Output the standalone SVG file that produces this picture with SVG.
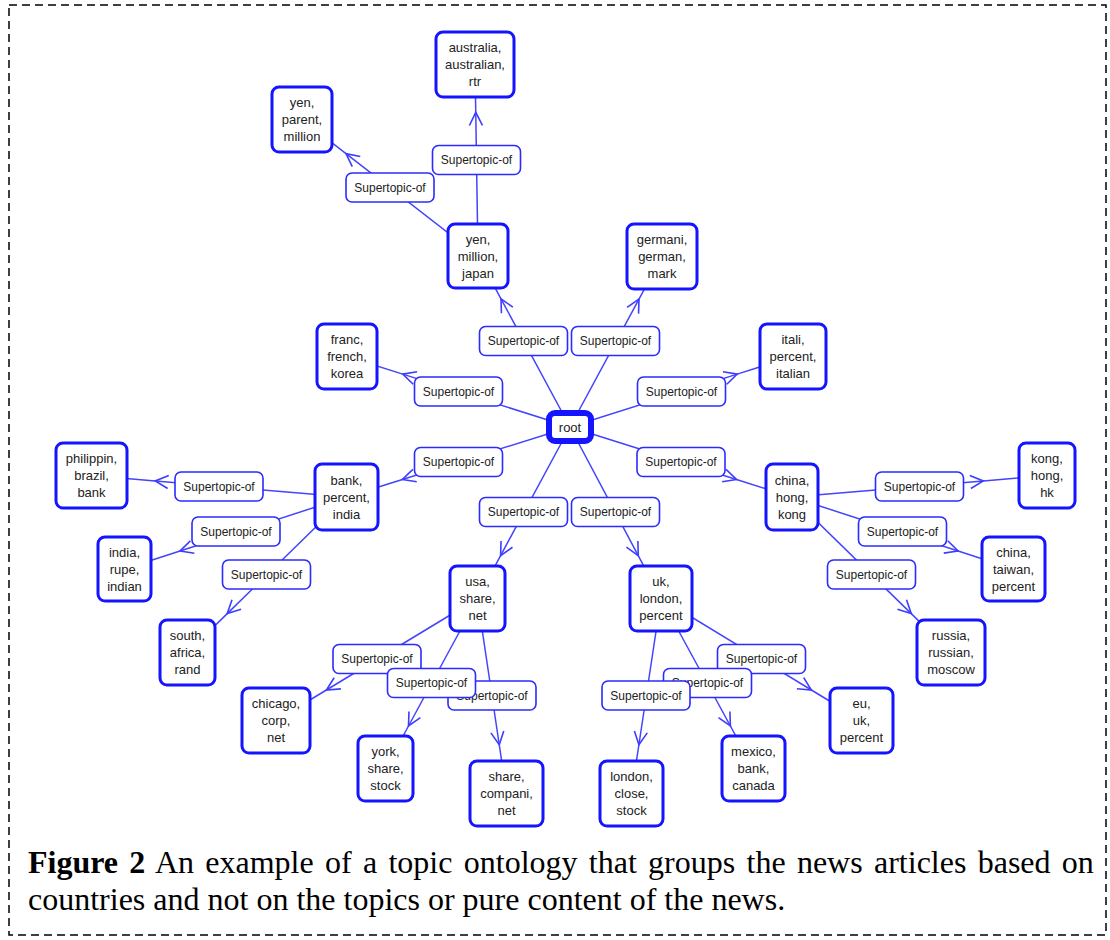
<svg xmlns="http://www.w3.org/2000/svg" width="1110" height="940" viewBox="0 0 1110 940">
<defs>
<marker id="arr" markerUnits="userSpaceOnUse" markerWidth="30" markerHeight="30" refX="0" refY="0" orient="auto" overflow="visible" viewBox="-15 -15 30 30">
<path d="M-13,-6.5 L0,0 L-13,6.5" fill="none" stroke="#3d3dff" stroke-width="1.6"/>
</marker>
<style>
.edge{fill:none;stroke:#4444ff;stroke-width:1.5;marker-mid:url(#arr)}
.lbl rect{fill:#fff;stroke:#2b2bff;stroke-width:1.6}
.lbl text{font-family:"Liberation Sans",Arial,sans-serif;font-size:12px;fill:#222;text-anchor:middle}
.node rect{fill:#fff;stroke:#1414ff;stroke-width:3}
.node text{font-family:"Liberation Sans",Arial,sans-serif;font-size:13px;fill:#222;text-anchor:middle}
.cap{font-family:"Liberation Serif","Times New Roman",serif;font-size:32px;fill:#000}
</style>
</defs>
<rect x="0" y="0" width="1110" height="940" fill="#fff"/>
<rect x="9" y="5" width="1097" height="930" fill="none" stroke="#000" stroke-width="1.5" stroke-dasharray="8,5"/>

<g id="connectors">
<path class="edge" d="M570,427 L501,298.8 L478,256"/>
<path class="edge" d="M570,427 L639,299.1 L662,256.5"/>
<path class="edge" d="M570,427 L402.75,374.1 L347,356.5"/>
<path class="edge" d="M570,427 L737.25,374.1 L793,356.5"/>
<path class="edge" d="M570,427 L402.4,479.5 L346.5,497"/>
<path class="edge" d="M570,427 L736.5,479.5 L792,497"/>
<path class="edge" d="M570,427 L500.6,555.6 L477.5,598.5"/>
<path class="edge" d="M570,427 L638.25,555.6 L661,598.5"/>
<path class="edge" d="M478,256 L475.75,112.4 L475,64.5"/>
<path class="edge" d="M478,256 L346,153.6 L302,119.5"/>
<path class="edge" d="M346.5,497 L155.25,480.9 L91.5,475.5"/>
<path class="edge" d="M346.5,497 L180,551 L124.5,569"/>
<path class="edge" d="M346.5,497 L227.25,613.6 L187.5,652.5"/>
<path class="edge" d="M792,497 L983.25,480.9 L1047,475.5"/>
<path class="edge" d="M792,497 L958.1,551 L1013.5,569"/>
<path class="edge" d="M792,497 L911.25,613.6 L951,652.5"/>
<path class="edge" d="M477.5,598.5 L326.4,690 L276,720.5"/>
<path class="edge" d="M477.5,598.5 L408.5,726 L385.5,768.5"/>
<path class="edge" d="M477.5,598.5 L499.25,744.75 L506.5,793.5"/>
<path class="edge" d="M661,598.5 L811.4,690 L861.5,720.5"/>
<path class="edge" d="M661,598.5 L730.4,726 L753.5,768.5"/>
<path class="edge" d="M661,598.5 L638.9,744.75 L631.5,793.5"/>
</g>

<g id="edge-labels">
<g class="lbl"><rect x="479.5" y="326.5" width="88" height="29" rx="6"/><text x="523.5" y="345">Supertopic-of</text></g>
<g class="lbl"><rect x="571.5" y="326.5" width="88" height="29" rx="6"/><text x="615.5" y="345">Supertopic-of</text></g>
<g class="lbl"><rect x="414.5" y="377" width="88" height="29" rx="6"/><text x="458.5" y="395.5">Supertopic-of</text></g>
<g class="lbl"><rect x="637.5" y="377" width="88" height="29" rx="6"/><text x="681.5" y="395.5">Supertopic-of</text></g>
<g class="lbl"><rect x="414.5" y="447.5" width="88" height="29" rx="6"/><text x="458.5" y="466">Supertopic-of</text></g>
<g class="lbl"><rect x="637" y="447.5" width="88" height="29" rx="6"/><text x="681" y="466">Supertopic-of</text></g>
<g class="lbl"><rect x="479.5" y="497.5" width="88" height="29" rx="6"/><text x="523.5" y="516">Supertopic-of</text></g>
<g class="lbl"><rect x="571.5" y="497.5" width="88" height="29" rx="6"/><text x="615.5" y="516">Supertopic-of</text></g>
<g class="lbl"><rect x="432.5" y="145.5" width="88" height="29" rx="6"/><text x="476.5" y="164">Supertopic-of</text></g>
<g class="lbl"><rect x="346" y="173" width="88" height="29" rx="6"/><text x="390" y="191.5">Supertopic-of</text></g>
<g class="lbl"><rect x="175" y="472" width="88" height="29" rx="6"/><text x="219" y="490.5">Supertopic-of</text></g>
<g class="lbl"><rect x="192" y="517" width="88" height="29" rx="6"/><text x="236" y="535.5">Supertopic-of</text></g>
<g class="lbl"><rect x="222.5" y="560" width="88" height="29" rx="6"/><text x="266.5" y="578.5">Supertopic-of</text></g>
<g class="lbl"><rect x="875.5" y="472" width="88" height="29" rx="6"/><text x="919.5" y="490.5">Supertopic-of</text></g>
<g class="lbl"><rect x="858.5" y="517" width="88" height="29" rx="6"/><text x="902.5" y="535.5">Supertopic-of</text></g>
<g class="lbl"><rect x="827.5" y="560" width="88" height="29" rx="6"/><text x="871.5" y="578.5">Supertopic-of</text></g>
<g class="lbl"><rect x="333" y="644.5" width="88" height="29" rx="6"/><text x="377" y="663">Supertopic-of</text></g>
<g class="lbl"><rect x="448" y="681" width="88" height="29" rx="6"/><text x="492" y="699.5">Supertopic-of</text></g>
<g class="lbl"><rect x="387.5" y="668.5" width="88" height="29" rx="6"/><text x="431.5" y="687">Supertopic-of</text></g>
<g class="lbl"><rect x="717.5" y="644.5" width="88" height="29" rx="6"/><text x="761.5" y="663">Supertopic-of</text></g>
<g class="lbl"><rect x="663.5" y="668.5" width="88" height="29" rx="6"/><text x="707.5" y="687">Supertopic-of</text></g>
<g class="lbl"><rect x="602" y="681" width="88" height="29" rx="6"/><text x="646" y="699.5">Supertopic-of</text></g>
</g>

<g id="root" class="node"><rect x="549" y="413" width="42" height="28" rx="6" style="stroke-width:6"/><text x="570" y="431.5">root</text></g>
<g id="n-australia" class="node"><rect x="436" y="32" width="78" height="65" rx="7"/><text x="475" y="52">australia,</text><text x="475" y="69">australian,</text><text x="475" y="86">rtr</text></g>
<g id="n-yen-parent" class="node"><rect x="272" y="87" width="60" height="65" rx="7"/><text x="302" y="107">yen,</text><text x="302" y="124">parent,</text><text x="302" y="141">million</text></g>
<g id="n-yen-japan" class="node"><rect x="448" y="224" width="60" height="64" rx="7"/><text x="478" y="243.5">yen,</text><text x="478" y="260.5">million,</text><text x="478" y="277.5">japan</text></g>
<g id="n-germani" class="node"><rect x="627" y="224" width="70" height="65" rx="7"/><text x="662" y="244">germani,</text><text x="662" y="261">german,</text><text x="662" y="278">mark</text></g>
<g id="n-franc" class="node"><rect x="317" y="324" width="60" height="65" rx="7"/><text x="347" y="344">franc,</text><text x="347" y="361">french,</text><text x="347" y="378">korea</text></g>
<g id="n-itali" class="node"><rect x="760" y="324" width="66" height="65" rx="7"/><text x="793" y="344">itali,</text><text x="793" y="361">percent,</text><text x="793" y="378">italian</text></g>
<g id="n-philippin" class="node"><rect x="56" y="443" width="71" height="65" rx="7"/><text x="91.5" y="463">philippin,</text><text x="91.5" y="480">brazil,</text><text x="91.5" y="497">bank</text></g>
<g id="n-bank" class="node"><rect x="315" y="464" width="63" height="66" rx="7"/><text x="346.5" y="484.5">bank,</text><text x="346.5" y="501.5">percent,</text><text x="346.5" y="518.5">india</text></g>
<g id="n-china" class="node"><rect x="766" y="464" width="52" height="66" rx="7"/><text x="792" y="484.5">china,</text><text x="792" y="501.5">hong,</text><text x="792" y="518.5">kong</text></g>
<g id="n-kong" class="node"><rect x="1019" y="443" width="56" height="65" rx="7"/><text x="1047" y="463">kong,</text><text x="1047" y="480">hong,</text><text x="1047" y="497">hk</text></g>
<g id="n-india" class="node"><rect x="98" y="537" width="53" height="64" rx="7"/><text x="124.5" y="556.5">india,</text><text x="124.5" y="573.5">rupe,</text><text x="124.5" y="590.5">indian</text></g>
<g id="n-taiwan" class="node"><rect x="982" y="537" width="63" height="64" rx="7"/><text x="1013.5" y="556.5">china,</text><text x="1013.5" y="573.5">taiwan,</text><text x="1013.5" y="590.5">percent</text></g>
<g id="n-south" class="node"><rect x="160" y="620" width="55" height="65" rx="7"/><text x="187.5" y="640">south,</text><text x="187.5" y="657">africa,</text><text x="187.5" y="674">rand</text></g>
<g id="n-russia" class="node"><rect x="917" y="620" width="68" height="65" rx="7"/><text x="951" y="640">russia,</text><text x="951" y="657">russian,</text><text x="951" y="674">moscow</text></g>
<g id="n-usa" class="node"><rect x="450" y="566" width="55" height="65" rx="7"/><text x="477.5" y="586">usa,</text><text x="477.5" y="603">share,</text><text x="477.5" y="620">net</text></g>
<g id="n-uk" class="node"><rect x="630" y="566" width="62" height="65" rx="7"/><text x="661" y="586">uk,</text><text x="661" y="603">london,</text><text x="661" y="620">percent</text></g>
<g id="n-chicago" class="node"><rect x="242" y="688" width="68" height="65" rx="7"/><text x="276" y="708">chicago,</text><text x="276" y="725">corp,</text><text x="276" y="742">net</text></g>
<g id="n-york" class="node"><rect x="358" y="736" width="55" height="65" rx="7"/><text x="385.5" y="756">york,</text><text x="385.5" y="773">share,</text><text x="385.5" y="790">stock</text></g>
<g id="n-share" class="node"><rect x="470" y="761" width="73" height="65" rx="7"/><text x="506.5" y="781">share,</text><text x="506.5" y="798">compani,</text><text x="506.5" y="815">net</text></g>
<g id="n-eu" class="node"><rect x="830" y="688" width="63" height="65" rx="7"/><text x="861.5" y="708">eu,</text><text x="861.5" y="725">uk,</text><text x="861.5" y="742">percent</text></g>
<g id="n-mexico" class="node"><rect x="722" y="736" width="63" height="65" rx="7"/><text x="753.5" y="756">mexico,</text><text x="753.5" y="773">bank,</text><text x="753.5" y="790">canada</text></g>
<g id="n-london" class="node"><rect x="600" y="761" width="63" height="65" rx="7"/><text x="631.5" y="781">london,</text><text x="631.5" y="798">close,</text><text x="631.5" y="815">stock</text></g>

<g id="caption">
<text class="cap" x="28" y="873" word-spacing="3.3"><tspan font-weight="bold">Figure 2</tspan> An example of a topic ontology that groups the news articles based on</text>
<text class="cap" x="28" y="910">countries and not on the topics or pure content of the news.</text>
</g>
</svg>
